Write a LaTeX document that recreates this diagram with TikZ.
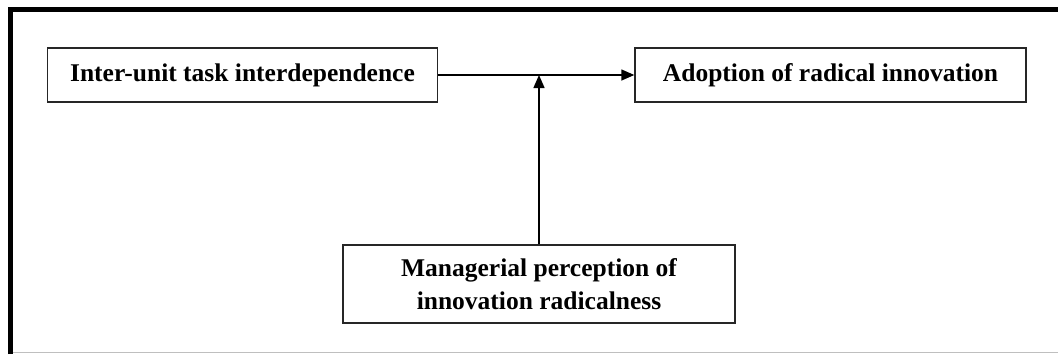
\documentclass[tikz,border=0pt]{standalone}
\usepackage{fontspec}
\setmainfont{Liberation Serif}
\usetikzlibrary{arrows.meta}
\begin{document}
\begin{tikzpicture}[x=1pt,y=-1pt,
  box/.style={draw=black!85,line width=1.4pt,minimum height=54pt,inner sep=0pt,align=center,
    font=\fontsize{25.5}{33}\selectfont\bfseries},
  arr/.style={line width=1.4pt,-{Triangle[length=13pt,width=11pt]}}]
\useasboundingbox (0,0) rectangle (1058,354);
% frame
\draw[line width=5pt] (10.5,354) -- (10.5,9) -- (1058,9);
\draw[black!25,line width=1.2pt] (13,352.5) -- (1058,352.5);
% nodes
\node[box,minimum width=390pt] (a) at (242.5,75) {Inter-unit task interdependence};
\node[box,minimum width=391pt] (b) at (830.5,75) {Adoption of radical innovation};
\node[box,minimum width=392pt,minimum height=78pt] (c) at (539,284) {Managerial perception of\\innovation radicalness};
\coordinate (m) at (539,75);
\draw[arr] (a.east) -- (b.west);
\draw[arr] (c.north) -- (m);
\end{tikzpicture}
\end{document}
